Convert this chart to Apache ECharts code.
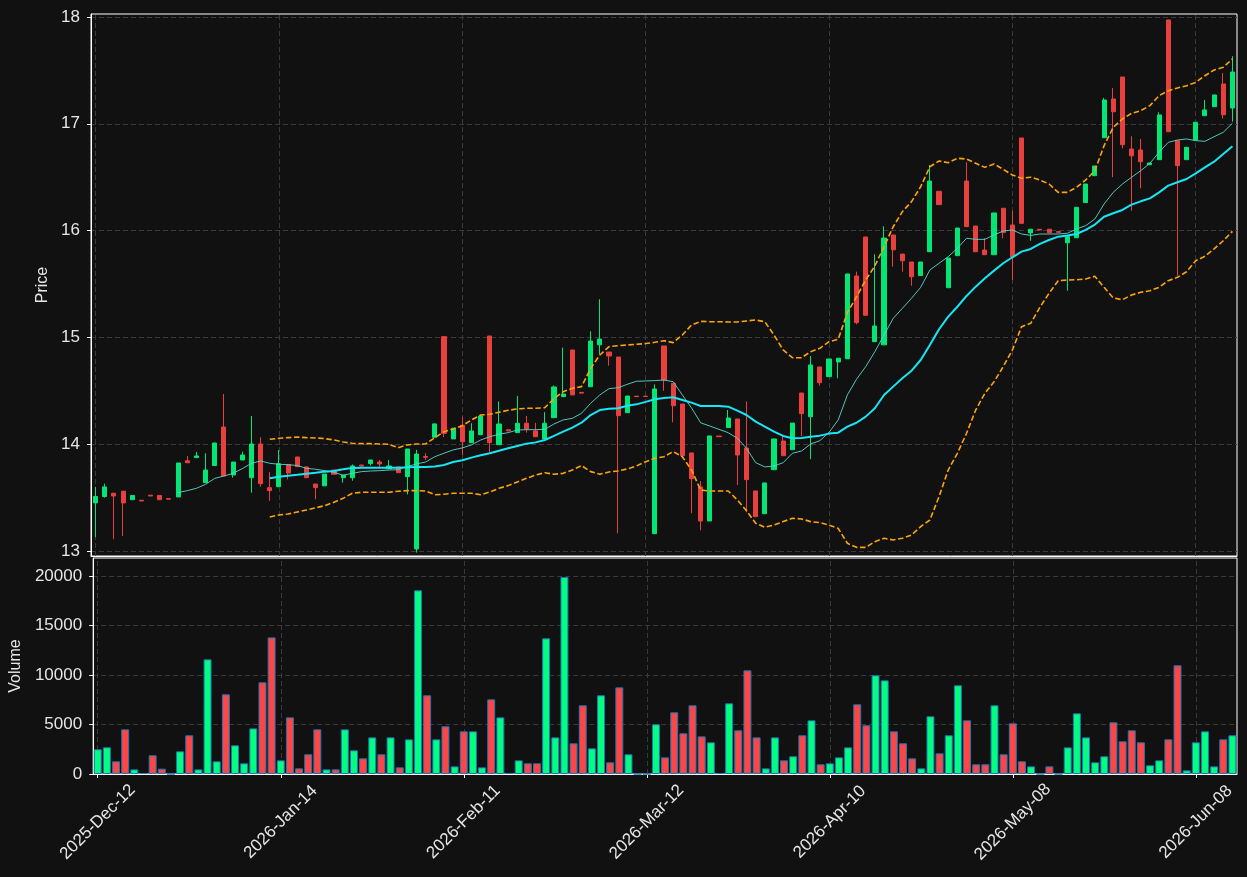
<!DOCTYPE html>
<html><head><meta charset="utf-8">
<script src="https://cdn.jsdelivr.net/npm/echarts@6/dist/echarts.min.js"></script>
<style>html,body{margin:0;padding:0;background:#111111;}#c{width:1247px;height:877px;}</style>
</head><body><div id="c"></div>
<script>
// ---- tick labels (x axis) ----
const tickLabels = ['2025-Dec-12','2026-Jan-14','2026-Feb-11','2026-Mar-12','2026-Apr-10','2026-May-08','2026-Jun-08'];
const tickIndex = [0, 20, 40, 60, 80, 100, 120];
const priceTicks = [13, 14, 15, 16, 17, 18];
const volumeTicks = [0, 5000, 10000, 15000, 20000];

// ---- OHLC ----
const openP = [13.45,13.51,13.54,13.56,13.48,13.475,13.522,13.52,13.49,13.506,
13.845,13.874,13.64,13.80,14.161,13.712,13.852,13.686,14.002,13.593,
13.602,13.81,13.88,13.787,13.627,13.61,13.758,13.686,13.686,13.805,
13.818,13.833,13.77,13.787,13.696,13.019,13.885,14.065,15.007,14.049,
14.177,14.014,14.089,15.013,13.995,14.135,14.108,14.196,14.124,14.049,
14.248,14.445,14.882,14.485,14.538,14.93,14.863,14.816,14.295,14.45,
14.449,13.162,14.92,14.57,14.376,13.918,13.60,13.281,14.076,14.155,
14.236,13.964,13.562,13.349,13.761,14.03,13.948,14.479,14.257,14.723,
14.632,14.77,14.80,15.575,15.94,14.96,14.93,15.959,15.78,15.706,
15.578,15.802,16.368,15.465,15.765,16.464,16.043,15.818,15.774,16.209,
16.052,16.867,15.978,16.012,16.013,15.99,15.886,15.933,16.262,16.514,
16.87,17.232,17.438,16.764,16.755,16.617,16.664,17.972,16.842,16.664,
16.848,17.076,17.16,17.373,17.148];
const closeP = [13.51,13.60,13.515,13.45,13.52,13.468,13.515,13.48,13.485,13.824,
13.826,13.89,13.758,14.011,13.702,13.833,13.899,14.002,13.63,13.565,
13.817,13.73,13.79,13.686,13.593,13.72,13.718,13.71,13.796,13.795,
13.852,13.815,13.796,13.733,13.955,13.908,13.877,14.19,14.102,14.149,
14.023,14.124,14.264,14.014,14.189,14.125,14.196,14.142,14.07,14.196,
14.536,14.47,14.461,14.478,14.966,14.985,14.826,14.267,14.451,14.445,
14.447,14.517,14.60,14.36,13.893,13.677,13.281,14.077,14.07,14.245,
13.899,13.668,13.321,13.637,14.049,13.892,14.198,14.286,14.742,14.576,
14.798,14.805,15.594,15.138,15.207,15.107,15.93,15.82,15.718,15.568,
15.706,16.464,16.243,15.743,16.024,16.037,15.802,15.774,16.165,15.981,
15.756,16.068,16.013,16.006,15.98,15.984,15.943,16.218,16.436,16.605,
17.223,17.113,16.804,16.70,16.645,16.633,17.083,16.926,16.608,16.78,
17.014,17.13,17.27,17.085,17.485];
const lowP = [13.13,13.50,13.11,13.14,13.48,13.468,13.515,13.48,13.485,13.506,
13.826,13.874,13.64,13.80,13.702,13.686,13.852,13.546,13.602,13.47,
13.602,13.67,13.79,13.686,13.484,13.61,13.718,13.64,13.658,13.795,
13.80,13.787,13.77,13.733,13.53,12.985,13.852,14.065,14.065,14.049,
13.90,14.014,14.089,13.924,13.995,14.125,14.108,14.108,14.07,14.049,
14.248,14.445,14.461,14.478,14.538,14.845,14.735,13.166,14.295,14.445,
14.447,13.162,14.50,14.205,13.893,13.353,13.194,13.281,14.07,14.155,
13.618,13.362,13.321,13.349,13.761,13.892,13.948,14.074,13.859,14.548,
14.632,14.617,14.80,15.123,15.207,14.96,14.93,15.662,15.615,15.484,
15.578,15.802,16.243,15.465,15.765,16.037,15.802,15.774,15.774,15.928,
15.537,16.068,15.905,16.006,15.98,15.984,15.437,15.933,16.262,16.514,
16.87,16.50,16.77,16.186,16.396,16.617,16.664,16.926,15.578,16.664,
16.848,17.076,17.16,17.05,17.02];
const highP = [13.60,13.63,13.545,13.56,13.52,13.475,13.522,13.52,13.49,13.824,
13.89,13.927,13.915,14.011,14.47,13.833,13.93,14.264,14.065,13.737,
13.946,13.81,13.88,13.787,13.627,13.72,13.758,13.71,13.81,13.805,
13.852,13.852,13.852,13.787,13.955,13.946,13.915,14.19,15.007,14.149,
14.257,14.196,14.264,15.013,14.40,14.135,14.451,14.264,14.20,14.30,
14.55,14.904,14.882,14.485,15.057,15.357,14.863,14.816,14.451,14.45,
14.449,14.56,14.92,14.57,14.376,13.918,13.655,14.077,14.076,14.32,
14.236,14.40,13.562,13.637,14.049,14.077,14.198,14.479,14.826,14.723,
14.798,14.805,15.594,15.615,15.94,15.778,16.04,15.959,15.78,15.706,
15.706,16.614,16.368,15.743,16.024,16.64,16.043,15.928,16.165,16.209,
16.186,16.867,16.013,16.012,16.013,15.99,15.943,16.218,16.436,16.605,
17.242,17.335,17.438,16.883,16.858,16.633,17.108,17.972,16.842,16.78,
17.014,17.223,17.27,17.476,17.632];

// ---- volume ----
const volume = [2500,2700,1280,4510,470,100,1890,540,0,2290,
3910,470,11580,1280,8050,2900,1080,4610,9260,13800,
1380,5720,570,1990,4510,470,470,4510,2390,1580,
3700,1990,3700,670,3500,18550,7950,3500,4820,770,
4310,4310,670,7540,5720,100,1380,1080,1080,13700,
3700,19900,3100,6940,2590,7950,1180,8750,1990,0,
0,5020,1680,6230,4110,6940,3800,3200,100,7140,
4410,10470,3700,570,3700,1380,1790,3910,5420,980,
1080,1680,2690,7040,4920,9970,9460,4310,3100,1580,
570,5830,2090,3910,8960,5420,980,980,6940,1990,
5120,1280,770,0,770,0,2690,6130,3700,1180,
1790,5220,3300,4410,3200,880,1380,3500,10980,370,
3200,4310,770,3500,3910];

// ---- moving averages and bands ----
const ma10 = [null,null,null,null,null,null,null,null,null,13.546,
13.565,13.587,13.624,13.68,13.702,13.727,13.771,13.821,13.843,13.821,
13.812,13.808,13.80,13.774,13.765,13.752,13.737,13.709,13.727,13.743,
13.749,13.752,13.758,13.761,13.79,13.815,13.833,13.883,13.915,13.946,
13.965,13.993,14.039,14.07,14.093,14.108,14.133,14.136,14.136,14.139,
14.189,14.227,14.242,14.289,14.383,14.461,14.52,14.529,14.561,14.589,
14.592,14.595,14.601,14.585,14.461,14.34,14.20,14.17,14.139,14.108,
14.055,13.962,13.827,13.787,13.796,13.827,13.915,13.936,14.002,14.033,
14.11,14.227,14.461,14.608,14.726,14.866,15.022,15.178,15.272,15.366,
15.469,15.631,15.694,15.756,15.834,15.928,15.918,15.918,15.959,15.996,
16.006,15.968,15.955,15.968,15.968,15.968,15.975,16.015,16.046,16.109,
16.249,16.358,16.436,16.499,16.561,16.63,16.733,16.826,16.848,16.858,
16.842,16.836,16.879,16.92,17.005];
const ma20 = [null,null,null,null,null,null,null,null,null,null,
null,null,null,null,null,null,null,null,null,13.68,
13.696,13.705,13.714,13.724,13.733,13.743,13.749,13.765,13.777,13.78,
13.78,13.78,13.78,13.78,13.783,13.787,13.787,13.79,13.805,13.833,
13.849,13.874,13.896,13.915,13.939,13.962,13.983,14.005,14.017,14.039,
14.077,14.117,14.155,14.201,14.273,14.32,14.332,14.336,14.36,14.373,
14.396,14.42,14.433,14.439,14.414,14.389,14.358,14.358,14.358,14.351,
14.314,14.273,14.211,14.164,14.117,14.077,14.055,14.058,14.07,14.08,
14.099,14.108,14.164,14.201,14.258,14.336,14.461,14.539,14.617,14.688,
14.788,14.929,15.076,15.194,15.287,15.388,15.475,15.553,15.625,15.694,
15.75,15.803,15.828,15.875,15.912,15.943,15.953,15.968,16.006,16.056,
16.13,16.162,16.193,16.243,16.274,16.302,16.358,16.421,16.452,16.483,
16.536,16.592,16.645,16.717,16.789];
const bbUpper = [null,null,null,null,null,null,null,null,null,null,
null,null,null,null,null,null,null,null,null,14.046,
14.055,14.061,14.067,14.061,14.058,14.052,14.04,14.021,14.008,14.005,
14.005,14.002,13.999,13.967,13.993,14.002,14.002,14.061,14.117,14.142,
14.173,14.227,14.273,14.28,14.299,14.317,14.33,14.336,14.336,14.342,
14.426,14.492,14.523,14.539,14.71,14.835,14.913,14.922,14.929,14.935,
14.942,14.954,14.969,14.951,15.022,15.116,15.15,15.147,15.147,15.144,
15.144,15.154,15.163,15.147,15.022,14.882,14.81,14.81,14.866,14.898,
14.96,14.982,15.231,15.381,15.537,15.669,15.849,16.036,16.177,16.271,
16.411,16.598,16.652,16.636,16.677,16.67,16.63,16.592,16.624,16.574,
16.521,16.49,16.5,16.474,16.436,16.358,16.358,16.405,16.474,16.561,
16.795,16.967,17.045,17.098,17.123,17.17,17.263,17.31,17.335,17.357,
17.388,17.45,17.504,17.529,17.607];
const bbLower = [null,null,null,null,null,null,null,null,null,null,
null,null,null,null,null,null,null,null,null,13.318,
13.337,13.346,13.365,13.384,13.405,13.424,13.456,13.493,13.54,13.55,
13.55,13.55,13.55,13.559,13.565,13.565,13.562,13.527,13.531,13.54,
13.54,13.54,13.527,13.552,13.587,13.612,13.646,13.68,13.712,13.733,
13.718,13.727,13.758,13.80,13.743,13.718,13.74,13.749,13.768,13.796,
13.836,13.868,13.883,13.93,13.883,13.758,13.571,13.562,13.562,13.562,
13.478,13.377,13.259,13.222,13.243,13.275,13.306,13.30,13.275,13.265,
13.243,13.212,13.072,13.034,13.034,13.087,13.119,13.103,13.119,13.15,
13.228,13.29,13.509,13.758,13.915,14.102,14.32,14.476,14.585,14.726,
14.882,15.1,15.132,15.282,15.413,15.531,15.537,15.54,15.547,15.572,
15.469,15.369,15.353,15.397,15.422,15.437,15.469,15.531,15.562,15.615,
15.718,15.759,15.828,15.905,15.993];

// ---- categories: trading-day labels ----
const MONTHS = ['Jan','Feb','Mar','Apr','May','Jun','Jul','Aug','Sep','Oct','Nov','Dec'];
const dates = [];
(function () {
  const d = new Date(Date.UTC(2025, 11, 12));
  while (dates.length < openP.length) {
    const wd = d.getUTCDay();
    if (wd !== 0 && wd !== 6) {
      dates.push(d.getUTCFullYear() + '-' + MONTHS[d.getUTCMonth()] + '-' + String(d.getUTCDate()).padStart(2, '0'));
    }
    d.setUTCDate(d.getUTCDate() + 1);
  }
})();

const FONT = 'Liberation Sans';
const TXT = '#e6e6e6';
const GRIDC = '#3a3a3a';
const upC = '#00e676', downC = '#e8403f';
const volUp = '#00ff80', volDown = '#ff4646';

const candleData = openP.map((o, i) => [o, closeP[i], lowP[i], highP[i]]);
const volData = volume.map((v, i) => ({ value: v, itemStyle: { color: closeP[i] >= openP[i] ? volUp : volDown } }));
const vLines = tickIndex.map(i => ({ xAxis: dates[i] }));

const chart = echarts.init(document.getElementById('c'), null, { renderer: 'canvas' });
chart.setOption({
  backgroundColor: '#111111',
  animation: false,
  textStyle: { fontFamily: FONT, color: TXT },
  grid: [
    { left: 91, right: 10, top: 14, height: 542, show: true, borderColor: '#ffffff', borderWidth: 1, backgroundColor: 'transparent' },
    { left: 91, right: 10, top: 558, height: 216, show: true, borderColor: '#ffffff', borderWidth: 1, backgroundColor: 'transparent' }
  ],
  xAxis: [
    { type: 'category', gridIndex: 0, data: dates, boundaryGap: true,
      axisLine: { show: true, lineStyle: { color: '#ffffff' } }, axisTick: { show: false },
      axisLabel: { show: false }, splitLine: { show: false } },
    { type: 'category', gridIndex: 1, data: dates, boundaryGap: true,
      axisLine: { show: true, lineStyle: { color: '#ffffff' } },
      axisTick: { show: true, alignWithLabel: true, length: 4, interval: (idx) => tickIndex.includes(idx), lineStyle: { color: '#ffffff' } },
      axisLabel: { show: true, interval: (idx) => tickIndex.includes(idx), rotate: 45, align: 'center', verticalAlign: 'middle', margin: 48,
        color: TXT, fontSize: 17, fontFamily: FONT,
        formatter: (v, idx) => { const k = tickIndex.indexOf(idx); return k >= 0 ? tickLabels[k] : ''; } },
      splitLine: { show: false } }
  ],
  yAxis: [
    { type: 'value', gridIndex: 0, min: 12.953, max: 18.028, scale: true,
      name: 'Price', nameLocation: 'middle', nameGap: 31, nameRotate: 90,
      nameTextStyle: { color: TXT, fontSize: 16, fontFamily: FONT },
      axisLine: { show: true, lineStyle: { color: '#ffffff' } },
      axisTick: { show: true, length: 4, lineStyle: { color: '#ffffff' }, customValues: priceTicks },
      axisLabel: { color: TXT, fontSize: 17, fontFamily: FONT, margin: 11, customValues: priceTicks,
        formatter: (v) => String(v) },
      splitLine: { show: true, lineStyle: { color: GRIDC, type: [5, 3], width: 1 } } },
    { type: 'value', gridIndex: 1, min: 0, max: 21818,
      name: 'Volume', nameLocation: 'middle', nameGap: 63, nameRotate: 90,
      nameTextStyle: { color: TXT, fontSize: 16, fontFamily: FONT },
      axisLine: { show: true, lineStyle: { color: '#ffffff' } },
      axisTick: { show: true, length: 4, lineStyle: { color: '#ffffff' }, customValues: volumeTicks },
      axisLabel: { color: TXT, fontSize: 17, fontFamily: FONT, margin: 11, customValues: volumeTicks,
        formatter: (v) => String(v) },
      splitLine: { show: true, lineStyle: { color: GRIDC, type: [5, 3], width: 1 } } }
  ],
  series: [
    { name: 'candles', type: 'candlestick', xAxisIndex: 0, yAxisIndex: 0, data: candleData,
      barWidth: 4.6, z: 2,
      itemStyle: { color: upC, color0: downC, borderColor: upC, borderColor0: downC, borderWidth: 1 },
      markLine: { silent: true, symbol: 'none', z: 1, label: { show: false },
        lineStyle: { color: GRIDC, type: [5, 3], width: 1 }, data: vLines } },
    { name: 'MA10', type: 'line', xAxisIndex: 0, yAxisIndex: 0, data: ma10, showSymbol: false, z: 4,
      lineStyle: { color: '#55d8d2', width: 1, opacity: 0.9 } },
    { name: 'MA20', type: 'line', xAxisIndex: 0, yAxisIndex: 0, data: ma20, showSymbol: false, z: 5,
      lineStyle: { color: '#16e6f6', width: 2 } },
    { name: 'Upper', type: 'line', xAxisIndex: 0, yAxisIndex: 0, data: bbUpper, showSymbol: false, z: 4,
      lineStyle: { color: '#ffa500', width: 1.6, type: [5.5, 2.6] } },
    { name: 'Lower', type: 'line', xAxisIndex: 0, yAxisIndex: 0, data: bbLower, showSymbol: false, z: 4,
      lineStyle: { color: '#ffa500', width: 1.6, type: [5.5, 2.6] } },
    { name: 'Volume', type: 'bar', xAxisIndex: 1, yAxisIndex: 1, data: volData, barWidth: '87%', z: 2,
      itemStyle: { borderColor: '#1f77b4', borderWidth: 1 },
      markLine: { silent: true, symbol: 'none', z: 1, label: { show: false },
        lineStyle: { color: GRIDC, type: [5, 3], width: 1 }, data: vLines } }
  ]
});
</script></body></html>
